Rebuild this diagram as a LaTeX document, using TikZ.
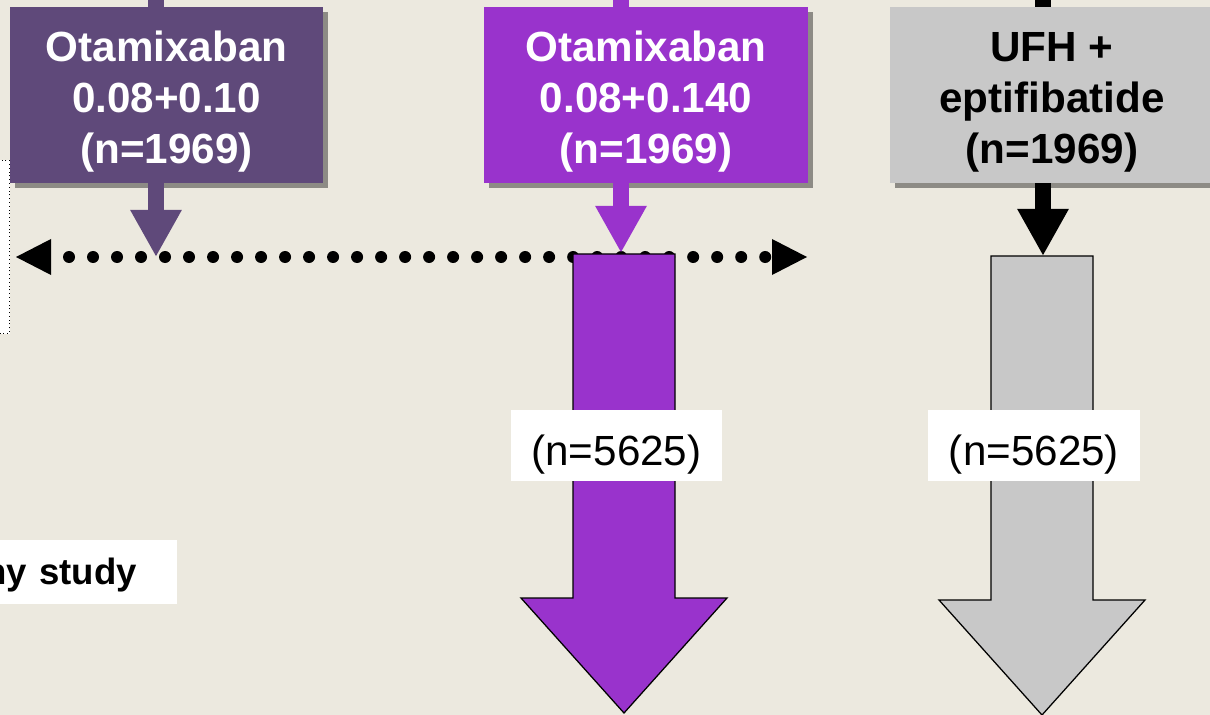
\documentclass[tikz,border=0pt]{standalone}
\usepackage{fontspec}
\setmainfont{Liberation Sans}
\usetikzlibrary{arrows.meta,shadows}
\definecolor{slide}{RGB}{236,233,223}
\definecolor{darkpurple}{RGB}{95,73,122}
\definecolor{brightpurple}{RGB}{153,51,204}
\definecolor{lightgrey}{RGB}{200,200,200}
\def\armstrut{\rule{0pt}{31pt}}
\begin{document}
\begin{tikzpicture}[x=0.025cm,y=-0.025cm,
  arm/.style={minimum height=4.4cm,align=center,text=white,inner sep=0pt,
    font=\fontsize{30}{36}\selectfont\bfseries,
    drop shadow={shadow xshift=0.12cm,shadow yshift=-0.12cm,opacity=0.4,fill=black}},
  feed/.style={line width=0.4cm},
  link/.style={line width=0.4cm,-{Triangle[length=1.175cm,width=1.2cm]}},
  countbox/.style={fill=white,minimum width=5.275cm,minimum height=1.775cm,
    text height=34pt,text depth=6pt,font=\fontsize{30}{35}\selectfont},
  bigarrow/.style={draw=black,line width=0.9pt}]
\def\bigarrowpath{(-51,0) -- (51,0) -- (51,344) -- (103,344) -- (0,459) -- (-103,344) -- (-51,344) -- cycle}

\fill[slide] (0,0) rectangle (1210,715);
\clip (0,0) rectangle (1210,715);

% dotted note box, cut by the left edge
\node (memo) [draw,dotted,line width=0.7pt,fill=white,anchor=north east,
  minimum width=3cm,minimum height=4.325cm] at (10,160) {};

% the three arms
\node (lbox) [arm,fill=darkpurple,minimum width=7.825cm] at (166.5,95)
  {\armstrut Otamixaban\\0.08+0.10\\(n=1969)};
\node (mbox) [arm,fill=brightpurple,minimum width=8.1cm] at (646,95)
  {\armstrut Otamixaban\\0.08+0.140\\(n=1969)};
\node (rbox) [arm,fill=lightgrey,text=black,minimum width=8.1cm] at (1052,95)
  {\armstrut UFH +\\eptifibatide\\(n=1969)};

\coordinate (ltop) at (156,0);
\coordinate (mtop) at (621,0);
\coordinate (rtop) at (1043,0);
\coordinate (ltip) at (156,257);
\coordinate (mtip) at (621,253);
\coordinate (rtip) at (1043,256);

\draw[feed,darkpurple] (ltop) -- (ltop |- lbox.north);
\draw[feed,brightpurple] (mtop) -- (mtop |- mbox.north);
\draw[feed,black] (rtop) -- (rtop |- rbox.north);

% dotted double arrow
\coordinate (dl) at (16,257);
\coordinate (dr) at (807,257);
\draw[line width=0.3cm,line cap=round,dash pattern=on 0pt off 0.6cm,dash phase=0.15cm,
  {Triangle[length=0.875cm,width=0.9cm,line width=0pt]}-{Triangle[length=0.875cm,width=0.9cm,line width=0pt]}]
  (dl) -- (dr);

\draw[link,darkpurple] (lbox.south -| ltip) -- (ltip);

% big arrows
\draw[bigarrow,fill=brightpurple,shift={(624,254)}] \bigarrowpath;
\draw[bigarrow,fill=lightgrey,shift={(1042,256)}] \bigarrowpath;

\draw[link,brightpurple] (mbox.south -| mtip) -- (mtip);
\draw[link,black] (rbox.south -| rtip) -- (rtip);

\node (mcount) [countbox] at (616.5,445.5) {(n=5625)};
\node (rcount) [countbox] at (1034,445.5) {(n=5625)};

\node (study) [fill=white,anchor=east,minimum height=1.6cm,text width=5cm,align=right,
  inner xsep=1.0cm,text height=24pt,text depth=6pt,
  font=\fontsize{26}{30}\selectfont\bfseries] at (177,572) {ny study};
\end{tikzpicture}
\end{document}
